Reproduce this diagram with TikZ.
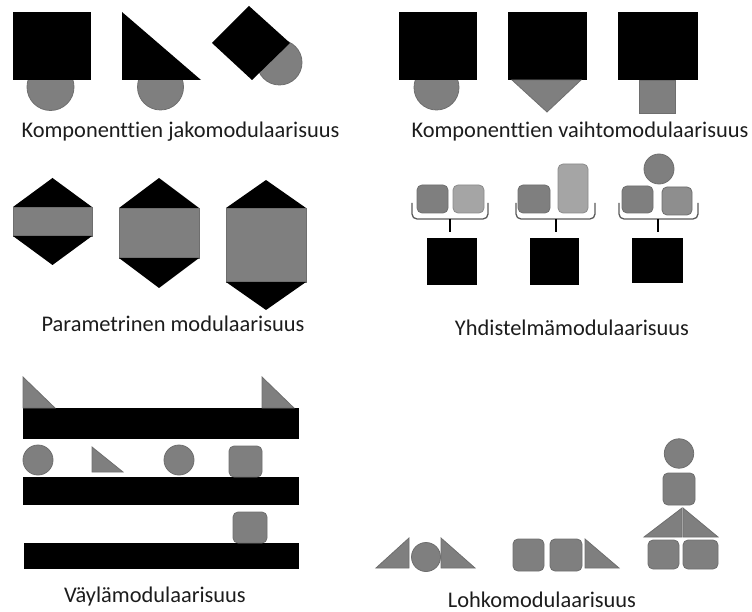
\documentclass[tikz,border=0pt]{standalone}
\usepackage{fontspec}
\setmainfont{Carlito}[Ligatures=NoCommon]
\definecolor{grayfill}{HTML}{7F7F7F}
\definecolor{grayedge}{HTML}{6E6E6E}
\definecolor{lightfill}{HTML}{A5A5A5}
\definecolor{midfill}{HTML}{8E8E8E}
\definecolor{bracegray}{HTML}{5A5A5A}
\definecolor{txt}{HTML}{1C1C1C}
\begin{document}
\begin{tikzpicture}[x=1pt,y=-1pt,
  blk/.style={fill=black},
  gr/.style={fill=grayfill,draw=grayedge,line width=0.8pt},
  grl/.style={fill=lightfill,draw=grayedge!80,line width=0.8pt},
  grm/.style={fill=midfill,draw=grayedge,line width=0.8pt},
  rnd/.style={rounded corners=5pt},
  brc/.style={draw=bracegray,line width=1.3pt,rounded corners=5pt},
  stem/.style={draw=black,line width=2pt},
  lbl/.style={font=\fontsize{22.4}{26}\selectfont,text=txt,inner sep=0pt}]
\useasboundingbox (0,0) rectangle (752,612);

% --- component sharing ---
\draw[gr] (50.5,87) circle (23.5);
\fill[blk] (13,12) rectangle (91,80);
\draw[gr] (160.5,87) circle (23);
\fill[blk] (122,12) -- (122,80) -- (201,80) -- cycle;
\draw[gr] (279.5,62.5) circle (22.5);
\fill[blk] (249,6) -- (290,43) -- (252,80) -- (212,43) -- cycle;
\node[lbl] (lab1) at (180.5,132) {Komponenttien jakomodulaarisuus};

% --- component swapping ---
\draw[gr] (436.5,87.5) circle (22.5);
\fill[blk] (399,12) rectangle (477,80);
\fill[blk] (508,12) rectangle (587,80);
\draw[gr] (512,80) -- (581,80) -- (547,112) -- cycle;
\fill[blk] (618,12) rectangle (698,80);
\draw[gr] (639,80) rectangle (675,113);
\node[lbl] (lab2) at (580,132) {Komponenttien vaihtomodulaarisuus};

% --- parametric ---
\draw[gr] (13,207) rectangle (92,236);
\fill[blk] (13,207) -- (52.5,178) -- (92,207) -- cycle;
\fill[blk] (13,236) -- (52.5,265) -- (92,236) -- cycle;
\draw[gr] (119,208) rectangle (199,258);
\fill[blk] (119,208) -- (159,178) -- (199,208) -- cycle;
\fill[blk] (119,258) -- (159,288) -- (199,258) -- cycle;
\draw[gr] (226,208) rectangle (306,282);
\fill[blk] (226,208) -- (266,180) -- (306,208) -- cycle;
\fill[blk] (226,282) -- (266,310) -- (306,282) -- cycle;
\node[lbl] (lab3) at (173,324) {Parametrinen modulaarisuus};

% --- combination ---
\draw[gr,rnd] (417,185) rectangle (448,213);
\draw[grl,rnd] (453,185) rectangle (484,213);
\draw[brc] (412,203) -- (412,219) -- (488,219) -- (488,203);
\draw[stem] (450,219) -- (450,232);
\fill[blk] (427,238) rectangle (477,285);

\draw[gr,rnd] (518,185) rectangle (550,213);
\draw[grl,rnd] (558,164) rectangle (588,213);
\draw[brc] (516,203) -- (516,219) -- (595,219) -- (595,203);
\draw[stem] (556,219) -- (556,232);
\fill[blk] (530,238) rectangle (579,285);

\draw[gr] (659,169) circle (15);
\draw[gr,rnd] (622,186) rectangle (653,213);
\draw[grm,rnd] (662,187) rectangle (692,215);
\draw[brc] (619,203) -- (619,219) -- (698,219) -- (698,203);
\draw[stem] (658,219) -- (658,232);
\fill[blk] (632,238) rectangle (683,283);
\node[lbl] (lab4) at (572,328) {Yhdistelmämodulaarisuus};

% --- bus ---
\fill[blk] (23,408) rectangle (299,439);
\draw[gr] (23,377) -- (23,408) -- (55,408) -- cycle;
\draw[gr] (262,377) -- (262,408) -- (294,408) -- cycle;
\fill[blk] (23,477) rectangle (299,505);
\draw[gr] (38,460) circle (15);
\draw[gr] (92,447) -- (92,472) -- (123,472) -- cycle;
\draw[gr] (179,460) circle (15);
\draw[gr,rnd] (229,446) rectangle (262,477);
\fill[blk] (24,543) rectangle (299,569);
\draw[gr,rnd] (233,512) rectangle (267,543);
\node[lbl] (lab5) at (155,597) {Väylämodulaarisuus};

% --- block ---
\draw[gr] (376,568) -- (409,538) -- (409,568) -- cycle;
\draw[gr] (426,557) circle (14.5);
\draw[gr] (441,538) -- (441,568) -- (475,568) -- cycle;
\draw[gr,rnd] (513,539) rectangle (544,571);
\draw[gr,rnd] (550,539) rectangle (582,571);
\draw[gr] (585,539) -- (585,568) -- (619,568) -- cycle;
\draw[gr,rnd] (648,540) rectangle (679,569);
\draw[gr,rnd] (683,540) rectangle (718,569);
\draw[gr] (644,537) -- (682,537) -- (682,508) -- cycle;
\draw[gr] (683,508) -- (683,537) -- (718,537) -- cycle;
\draw[gr,rnd] (663,473) rectangle (695,505);
\draw[gr] (679,453.5) circle (14.7);
\node[lbl] (lab6) at (542,600) {Lohkomodulaarisuus};
\end{tikzpicture}
\end{document}
